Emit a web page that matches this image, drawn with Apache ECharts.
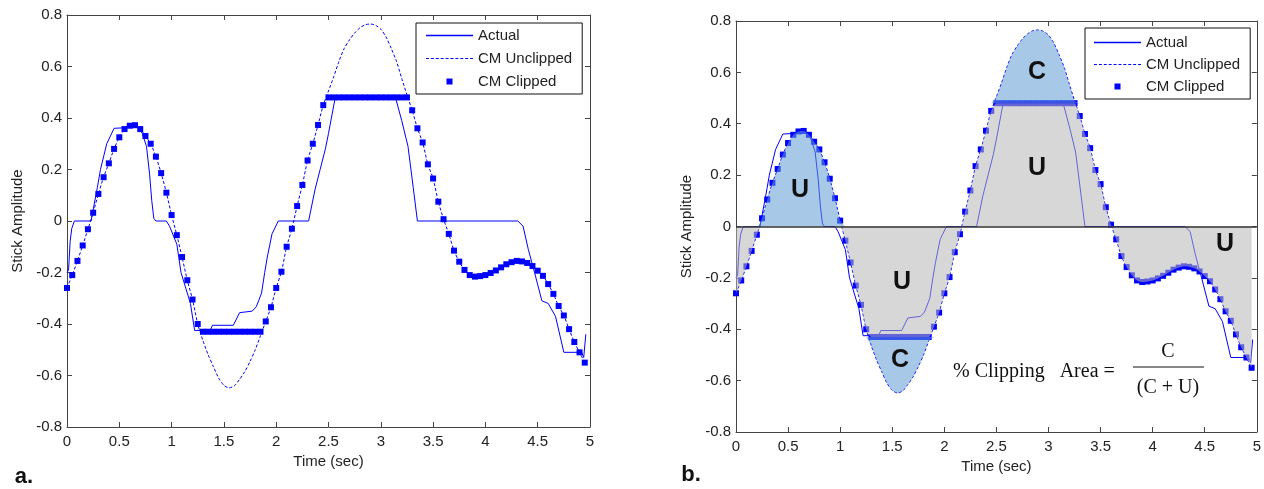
<!DOCTYPE html>
<html>
<head>
<meta charset="utf-8">
<script src="https://cdn.jsdelivr.net/npm/echarts@6/dist/echarts.min.js"></script>
<style>
html, body { margin: 0; padding: 0; background: #fff; }
#chart { width: 1264px; height: 489px; }
</style>
</head>
<body>
<div id="chart"></div>
<script>
// sampling interval of the CM signal (sec)
var timeStep = 0.05;

// CM unclipped, one value per timeStep from t = 0
var unclipped = [
    -0.26, -0.21, -0.155, -0.095, -0.032, 0.032, 0.105, 0.17, 0.224, 0.28,
    0.325, 0.357, 0.37, 0.372, 0.357, 0.33, 0.30, 0.25, 0.186, 0.11,
    0.023, -0.055, -0.14, -0.23, -0.305, -0.40, -0.465, -0.52, -0.566, -0.61,
    -0.638, -0.648, -0.64, -0.615, -0.585, -0.545, -0.50, -0.445, -0.39, -0.335,
    -0.26, -0.197, -0.10, -0.03, 0.058, 0.14, 0.235, 0.30, 0.373, 0.45,
    0.505, 0.56, 0.62, 0.67, 0.703, 0.73, 0.75, 0.762, 0.765, 0.76,
    0.745, 0.715, 0.67, 0.62, 0.554, 0.49, 0.43, 0.36, 0.305, 0.22,
    0.165, 0.075, 0.007, -0.05, -0.115, -0.158, -0.19, -0.21, -0.216, -0.214,
    -0.21, -0.202, -0.192, -0.18, -0.168, -0.16, -0.155, -0.157, -0.163, -0.175,
    -0.193, -0.213, -0.245, -0.283, -0.33, -0.367, -0.42, -0.47, -0.51, -0.55
];

// CM clipped, same samples
var clipped = [
    -0.26, -0.21, -0.155, -0.095, -0.032, 0.032, 0.105, 0.17, 0.224, 0.28,
    0.325, 0.357, 0.37, 0.372, 0.357, 0.33, 0.30, 0.25, 0.186, 0.11,
    0.023, -0.055, -0.14, -0.23, -0.305, -0.40, -0.43, -0.43, -0.43, -0.43,
    -0.43, -0.43, -0.43, -0.43, -0.43, -0.43, -0.43, -0.43, -0.39, -0.335,
    -0.26, -0.197, -0.10, -0.03, 0.058, 0.14, 0.235, 0.30, 0.373, 0.45,
    0.48, 0.48, 0.48, 0.48, 0.48, 0.48, 0.48, 0.48, 0.48, 0.48,
    0.48, 0.48, 0.48, 0.48, 0.48, 0.48, 0.43, 0.36, 0.305, 0.22,
    0.165, 0.075, 0.007, -0.05, -0.115, -0.158, -0.19, -0.21, -0.216, -0.214,
    -0.21, -0.202, -0.192, -0.18, -0.168, -0.16, -0.155, -0.157, -0.163, -0.175,
    -0.193, -0.213, -0.245, -0.283, -0.33, -0.367, -0.42, -0.47, -0.51, -0.55
];

// actual stick (piecewise)
var actualT = [0, 0.015, 0.03, 0.045, 0.07, 0.23, 0.29, 0.32, 0.38, 0.45,
    0.55, 0.62, 0.68, 0.72, 0.76, 0.79, 0.81, 0.83, 0.85, 0.95,
    0.98, 1.05, 1.09, 1.18, 1.22, 1.37, 1.39, 1.59, 1.65, 1.77,
    1.81, 1.86, 1.89, 1.915, 1.96, 2.02, 2.31, 2.37, 2.42, 2.47,
    2.50, 2.56, 2.60, 3.14, 3.20, 3.26, 3.31, 3.35, 4.31, 4.36,
    4.41, 4.47, 4.54, 4.60, 4.67, 4.75, 4.92, 4.94, 4.96];
var actualY = [-0.20, -0.19, -0.08, -0.03, 0, 0, 0.13, 0.20, 0.30, 0.36,
    0.362, 0.37, 0.365, 0.34, 0.29, 0.18, 0.08, 0.01, 0, 0,
    -0.02, -0.09, -0.20, -0.32, -0.425, -0.425, -0.405, -0.405, -0.356, -0.35,
    -0.333, -0.28, -0.20, -0.14, -0.05, 0, 0, 0.12, 0.20, 0.28,
    0.34, 0.47, 0.48, 0.48, 0.39, 0.29, 0.13, 0, 0, -0.02,
    -0.11, -0.20, -0.31, -0.32, -0.37, -0.51, -0.51, -0.53, -0.44];

var xTickLabels = ['0', '0.5', '1', '1.5', '2', '2.5', '3', '3.5', '4', '4.5', '5'];
var yTickLabels = ['-0.8', '-0.6', '-0.4', '-0.2', '0', '0.2', '0.4', '0.6', '0.8'];
var legendNames = ['Actual', 'CM Unclipped', 'CM Clipped'];

var blue = '#0000ff';
var textColor = '#222';
var axisColor = '#444';
var fontFamily = 'Liberation Sans, Arial, sans-serif';

var times = unclipped.map(function (v, i) { return +(i * timeStep).toFixed(2); });

function pairs(xs, ys) {
    return ys.map(function (y, i) { return [xs[i], y]; });
}

var actualData = pairs(actualT, actualY);
var unclippedData = pairs(times, unclipped);
var clippedData = pairs(times, clipped);

// --- areas for panel b ---
// end of the first (unclipped) hump
var humpEnd = 0;
for (var i = 1; i < unclipped.length - 1; i++) {
    if (unclipped[i] > 0 && unclipped[i + 1] <= 0) { humpEnd = i + 1; break; }
}
var grayVals = clipped.map(function (v, i) { return i <= humpEnd ? Math.min(v, 0) : v; });
var humpVals = unclipped.map(function (v, i) { return i <= humpEnd ? Math.max(v, 0) : null; });

// clipped runs
var clipRuns = [];
for (var j = 0; j < clipped.length; j++) {
    if (clipped[j] !== unclipped[j]) {
        var last = clipRuns[clipRuns.length - 1];
        if (last && last.b === j - 1) last.b = j;
        else clipRuns.push({ a: j, b: j, level: clipped[j] });
    }
}

// tick label lookup
function xLabel(v) { return xTickLabels[Math.round(v / 0.5)]; }
function yLabel(v) { return yTickLabels[Math.round((v + 0.8) / 0.2)]; }

function bottomAxis(gi) {
    return {
        type: 'value', gridIndex: gi, position: 'bottom', min: 0, max: 5, interval: 0.5,
        name: 'Time (sec)', nameLocation: 'middle', nameGap: 27,
        nameTextStyle: { fontSize: 15, color: textColor, fontFamily: fontFamily },
        axisLine: { onZero: false, lineStyle: { color: axisColor, width: 1 } },
        axisTick: { inside: true, length: 5, lineStyle: { color: axisColor } },
        axisLabel: { formatter: xLabel, fontSize: 15, color: textColor, fontFamily: fontFamily, margin: 7 },
        splitLine: { show: false }
    };
}
function topAxis(gi) {
    return {
        type: 'value', gridIndex: gi, position: 'top', min: 0, max: 5, interval: 0.5,
        axisLine: { onZero: false, lineStyle: { color: axisColor, width: 1 } },
        axisTick: { inside: true, length: 5, lineStyle: { color: axisColor } },
        axisLabel: { show: false },
        splitLine: { show: false }
    };
}
function leftAxis(gi) {
    return {
        type: 'value', gridIndex: gi, position: 'left', min: -0.8, max: 0.8, interval: 0.2,
        name: 'Stick Amplitude', nameLocation: 'middle', nameGap: 42,
        nameTextStyle: { fontSize: 15, color: textColor, fontFamily: fontFamily },
        axisLine: { onZero: false, lineStyle: { color: axisColor, width: 1 } },
        axisTick: { inside: true, length: 5, lineStyle: { color: axisColor } },
        axisLabel: { formatter: yLabel, fontSize: 15, color: textColor, fontFamily: fontFamily, margin: 5 },
        splitLine: { show: false }
    };
}
function rightAxis(gi) {
    return {
        type: 'value', gridIndex: gi, position: 'right', min: -0.8, max: 0.8, interval: 0.2,
        axisLine: { onZero: false, lineStyle: { color: axisColor, width: 1 } },
        axisTick: { inside: true, length: 5, lineStyle: { color: axisColor } },
        axisLabel: { show: false },
        splitLine: { show: false }
    };
}

function mainSeries(ax) {
    return [{
        name: legendNames[0], type: 'line', xAxisIndex: ax, yAxisIndex: ax,
        data: actualData, symbol: 'none', color: blue, z: 2,
        itemStyle: { color: blue },
        lineStyle: { color: blue, width: 1 }
    }, {
        name: legendNames[1], type: 'line', xAxisIndex: ax, yAxisIndex: ax,
        data: unclippedData, symbol: 'none', color: blue, smooth: 0.25, z: 2,
        itemStyle: { color: blue },
        lineStyle: { color: blue, width: 1, type: [3, 2] }
    }, {
        name: legendNames[2], type: 'scatter', xAxisIndex: ax, yAxisIndex: ax,
        data: clippedData, symbol: 'rect', symbolSize: 6, color: blue, z: 2,
        itemStyle: { color: blue, opacity: 1 }
    }];
}

function areaSeries(vals, color, origin, extra) {
    var s = {
        type: 'line', xAxisIndex: 2, yAxisIndex: 2, data: pairs(times, vals),
        symbol: 'none', smooth: 0.25, silent: true, z: 3,
        lineStyle: { width: 0 },
        areaStyle: { color: color, opacity: 0.55, origin: origin }
    };
    if (extra) for (var k in extra) s[k] = extra[k];
    return s;
}

var grayFill = 'rgb(182,182,182)';
var blueFill = 'rgb(95,155,212)';

var series = mainSeries(0).concat(mainSeries(2));
series.push(areaSeries(grayVals, grayFill, 0, {
    markLine: {
        silent: true, symbol: 'none', label: { show: false }, z: 5,
        lineStyle: { color: '#333', width: 1.5, type: 'solid' },
        data: [{ yAxis: 0 }]
    }
}));
series.push(areaSeries(humpVals, blueFill, 0));
clipRuns.forEach(function (run) {
    var vals = unclipped.map(function (v, i) {
        if (i < run.a - 1 || i > run.b + 1) return null;
        return run.level > 0 ? Math.max(v, run.level) : Math.min(v, run.level);
    });
    series.push(areaSeries(vals, blueFill, run.level));
});

// legend icons
var solidIcon = 'path://M0,0h48v1.4h-48z';
var dashIcon = 'path://';
for (var d = 0; d < 10; d++) dashIcon += 'M' + (d * 5) + ',0h3v1.2h-3z';
var squareIcon = 'path://M0,0h1v1h-1z';
var legendData = [
    { name: legendNames[0], icon: solidIcon, itemStyle: { color: blue } },
    { name: legendNames[1], icon: dashIcon, itemStyle: { color: blue } },
    { name: legendNames[2], icon: squareIcon, itemStyle: { color: blue } }
];

function legend(left, top, gap, padding) {
    return {
        data: legendData, orient: 'vertical', left: left, top: top,
        itemWidth: 47, itemHeight: 6, itemGap: gap, padding: padding,
        borderColor: '#111', borderWidth: 1, backgroundColor: '#fff',
        selectedMode: false,
        itemStyle: { borderWidth: 0 },
        textStyle: { fontSize: 15, color: textColor, fontFamily: fontFamily }
    };
}

function label(x, y, text, font) {
    return {
        type: 'text', x: x, y: y, z: 10,
        style: { text: text, font: font, fill: '#111', align: 'center', verticalAlign: 'middle' }
    };
}

var bigFont = 'bold 25px ' + fontFamily;
var serif = '20px Liberation Serif, Times New Roman, serif';

var option = {
    animation: false,
    backgroundColor: '#fff',
    grid: [
        { left: 67, top: 15, width: 523, height: 412 },
        { left: 736, top: 21, width: 521, height: 411 }
    ],
    xAxis: [bottomAxis(0), topAxis(0), bottomAxis(1), topAxis(1)],
    yAxis: [leftAxis(0), rightAxis(0), leftAxis(1), rightAxis(1)],
    legend: [
        legend(416, 23, 8, [5, 10, 5, 10]),
        legend(1085, 28, 7, [7, 10, 5, 9])
    ],
    series: series,
    graphic: [
        label(24, 477, 'a.', 'bold 22px ' + fontFamily),
        label(691, 475, 'b.', 'bold 22px ' + fontFamily),
        label(800, 190, 'U', bigFont),
        label(1037, 72, 'C', bigFont),
        label(1037, 168, 'U', bigFont),
        label(902, 282, 'U', bigFont),
        label(900, 360, 'C', bigFont),
        label(1225, 244, 'U', bigFont),
        { type: 'text', x: 953, y: 372, z: 10,
          style: { text: '% Clipping   Area =', font: serif, fill: '#111', align: 'left', verticalAlign: 'middle' } },
        label(1168, 352, 'C', serif),
        { type: 'line', z: 10, shape: { x1: 1133, y1: 367, x2: 1204, y2: 367 }, style: { stroke: '#111', lineWidth: 1 } },
        label(1168, 388, '(C + U)', serif)
    ]
};

var chart = echarts.init(document.getElementById('chart'));
chart.setOption(option);
</script>
</body>
</html>
